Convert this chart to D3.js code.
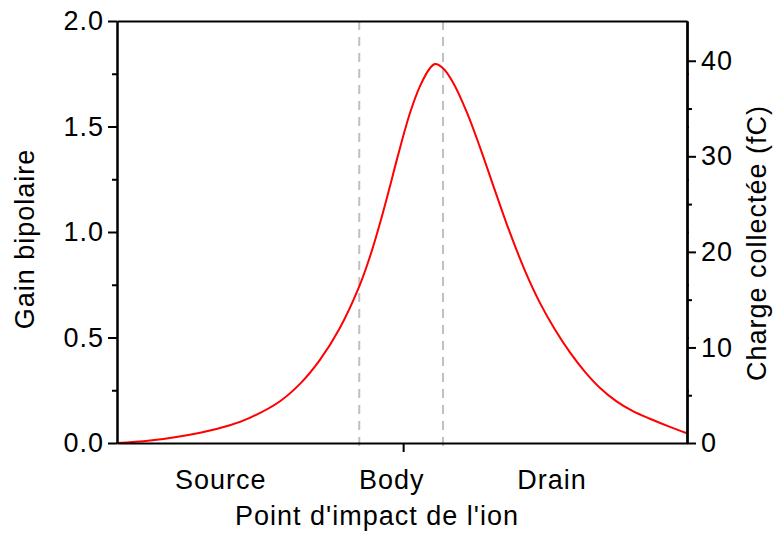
<!DOCTYPE html>
<html>
<head>
<meta charset="utf-8">
<script src="https://cdn.jsdelivr.net/npm/d3@7"></script>
<style>
  body { margin: 0; background: #fff; }
  text { font-family: "Liberation Sans", Arial, sans-serif; }
</style>
</head>
<body>
<svg id="chart" width="776" height="533"></svg>
<script>
// ---- data ----
const positions = [0, 5.8, 14.6, 19.8, 23.3, 28.6, 32.1, 35.6, 39.1, 42.5, 44.4, 46.1, 47.9, 49.1, 51.4, 53.2, 54.9, 55.8, 57.2, 58.9, 61.4, 63.7, 66.3, 68.9, 71.6, 74.2, 76.8, 79.5, 82.1, 84.7, 87.7, 90.5, 93.5, 97.0, 100];
const gain = [0, 0.0116, 0.0486, 0.084, 0.119, 0.198, 0.28, 0.394, 0.545, 0.742, 0.885, 1.038, 1.218, 1.343, 1.564, 1.694, 1.776, 1.796, 1.776, 1.711, 1.566, 1.400, 1.197, 0.999, 0.815, 0.664, 0.539, 0.428, 0.337, 0.262, 0.196, 0.151, 0.115, 0.0765, 0.046];
const regionNames = ["Source", "Body", "Drain"];
const regionLabelPos = [18.2, 48.2, 76.3];
const regionBounds = [42.5, 57.2];
const bodyTick = [50.2];
const gainTicks = [0, 0.5, 1.0, 1.5, 2.0];
const gainMinor = [0.25, 0.75, 1.25, 1.75];
const chargeTicks = [0, 10, 20, 30, 40];
const chargeMinor = [5, 15, 25, 35];
const xTitle = "Point d'impact de l'ion";
const yTitle = "Gain bipolaire";
const y2Title = "Charge collectée (fC)";

// ---- layout ----
const L = 117, R = 687, T = 21, B = 443;
const svg = d3.select("#chart");
const x = d3.scaleLinear().domain([0, 100]).range([L, R]);
const y = d3.scaleLinear().domain([0, 2]).range([B, T]);
const y2 = d3.scaleLinear().domain([0, 44.16]).range([B, T]);
const fontSize = 27;

function styleAxis(g) {
  g.selectAll("path.domain").attr("stroke", "#000").attr("stroke-width", 2);
  g.selectAll(".tick line").attr("stroke", "#000").attr("stroke-width", 2);
  g.selectAll(".tick text").attr("font-size", fontSize).attr("letter-spacing", "1px")
    .attr("fill", "#000").style("font-family", '"Liberation Sans", Arial, sans-serif');
}

// dashed region boundaries
svg.append("g").selectAll("line").data(regionBounds).join("line")
  .attr("x1", d => x(d)).attr("x2", d => x(d))
  .attr("y1", T).attr("y2", B + 10)
  .attr("stroke", "#c0c0c0").attr("stroke-width", 2)
  .attr("stroke-dasharray", "9,7");

// curve
const line = d3.line().x((d, i) => x(positions[i])).y(d => y(d)).curve(d3.curveCatmullRom.alpha(0.5));
svg.append("path").datum(gain).attr("d", line)
  .attr("fill", "none").attr("stroke", "#ff0000").attr("stroke-width", 2);

// left axis minor
svg.append("g").attr("transform", `translate(${L},0)`)
  .call(d3.axisLeft(y).tickValues(gainMinor).tickSize(5).tickFormat("").tickSizeOuter(0))
  .call(styleAxis);
// left axis major
svg.append("g").attr("transform", `translate(${L},0)`)
  .call(d3.axisLeft(y).tickValues(gainTicks).tickSize(9).tickPadding(4).tickFormat(d3.format(".1f")).tickSizeOuter(0))
  .call(styleAxis);

// right axis mirrored small ticks of left axis
svg.append("g").attr("transform", `translate(${R},0)`)
  .call(d3.axisRight(y).tickValues(gainMinor.concat([0.5, 1.0, 1.5])).tickSize(2).tickFormat("").tickSizeOuter(0))
  .call(styleAxis);
// right axis minor
svg.append("g").attr("transform", `translate(${R},0)`)
  .call(d3.axisRight(y2).tickValues(chargeMinor).tickSize(5).tickFormat("").tickSizeOuter(0))
  .call(styleAxis);
// right axis major
svg.append("g").attr("transform", `translate(${R},0)`)
  .call(d3.axisRight(y2).tickValues(chargeTicks).tickSize(9).tickPadding(5).tickFormat(d3.format("d")).tickSizeOuter(0))
  .call(styleAxis);

// bottom axis
svg.append("g").attr("transform", `translate(0,${B})`)
  .call(d3.axisBottom(x).tickValues(bodyTick).tickSize(9).tickFormat("").tickSizeOuter(0))
  .call(styleAxis);
// top axis
svg.append("g").attr("transform", `translate(0,${T})`)
  .call(d3.axisTop(x).tickValues(bodyTick).tickSize(0).tickFormat("").tickSizeOuter(0))
  .call(styleAxis);

// region labels
svg.append("g").selectAll("text").data(regionNames).join("text")
  .attr("x", (d, i) => x(regionLabelPos[i])).attr("y", 489)
  .attr("text-anchor", "middle").attr("font-size", fontSize).attr("letter-spacing", "1px")
  .text(d => d);

// axis titles
svg.append("text").attr("x", (L + R) / 2 - 25).attr("y", 525)
  .attr("text-anchor", "middle").attr("font-size", fontSize).attr("letter-spacing", "1px")
  .text(xTitle);
svg.append("text").attr("transform", "translate(34,239) rotate(-90)")
  .attr("text-anchor", "middle").attr("font-size", fontSize).attr("letter-spacing", "1px")
  .text(yTitle);
svg.append("text").attr("transform", "translate(766,243) rotate(-90)")
  .attr("text-anchor", "middle").attr("font-size", fontSize).attr("letter-spacing", "1px")
  .text(y2Title);
</script>
</body>
</html>
